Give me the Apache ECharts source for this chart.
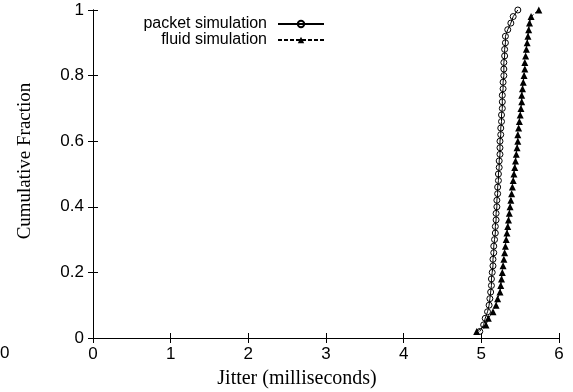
<!DOCTYPE html>
<html>
<head>
<meta charset="utf-8">
<script src="https://cdn.jsdelivr.net/npm/echarts@6/dist/echarts.min.js"></script>
<style>
html,body{margin:0;padding:0;background:#fff;}
#chart{width:573px;height:392px;}
</style>
</head>
<body>
<div id="chart"></div>
<script>
// Cumulative fraction levels (y values)
const fractions = [0.02,0.04,0.06,0.08,0.10,0.12,0.14,0.16,0.18,0.20,
  0.22,0.24,0.26,0.28,0.30,0.32,0.34,0.36,0.38,0.40,
  0.42,0.44,0.46,0.48,0.50,0.52,0.54,0.56,0.58,0.60,
  0.62,0.64,0.66,0.68,0.70,0.72,0.74,0.76,0.78,0.80,
  0.82,0.84,0.86,0.88,0.90,0.92,0.94,0.96,0.98,1.00];
// Jitter (ms) for packet simulation
const packetJitter = [4.98,5.03,5.05,5.08,5.10,5.11,5.12,5.13,5.13,5.14,
  5.15,5.15,5.16,5.16,5.17,5.18,5.18,5.19,5.19,5.20,
  5.20,5.21,5.21,5.22,5.22,5.23,5.23,5.24,5.24,5.24,
  5.25,5.25,5.26,5.26,5.27,5.27,5.27,5.28,5.28,5.29,
  5.29,5.29,5.30,5.30,5.31,5.31,5.34,5.38,5.41,5.47];
// Jitter (ms) for fluid simulation
const fluidJitter = [4.94,5.06,5.09,5.15,5.19,5.21,5.24,5.25,5.26,5.27,
  5.28,5.29,5.30,5.31,5.32,5.33,5.34,5.35,5.36,5.37,
  5.38,5.39,5.40,5.41,5.42,5.43,5.44,5.45,5.46,5.47,
  5.47,5.48,5.49,5.50,5.51,5.52,5.52,5.53,5.54,5.55,
  5.56,5.56,5.57,5.58,5.59,5.60,5.61,5.62,5.64,5.74];
const seriesNames = ['packet simulation','fluid simulation'];
const xTitle = 'Jitter (milliseconds)';
const yTitle = 'Cumulative Fraction';

const packetData = packetJitter.map((x,i)=>[x,fractions[i]]);
const fluidData = fluidJitter.map((x,i)=>[x,fractions[i]]);

const tickFont = {fontFamily:'Liberation Sans, Arial, sans-serif', fontSize:17, color:'#000'};
const chart = echarts.init(document.getElementById('chart'), null, {renderer:'canvas'});
const axisLine = {show:true, lineStyle:{color:'#000', width:1}};
chart.setOption({
  animation:false,
  backgroundColor:'#fff',
  grid:{left:93, right:14, top:10, bottom:54, show:false},
  legend:{
    data:seriesNames, orient:'vertical', right:248, top:16, align:'right', padding:0,
    itemWidth:46, itemHeight:8, itemGap:0,
    textStyle:{fontFamily:'Liberation Sans, Arial, sans-serif', fontSize:16, color:'#000', padding:[0,6,0,0]}
  },
  xAxis:[
    {type:'value', min:0, max:6, interval:1, position:'bottom',
     axisLine:axisLine, axisTick:{show:true, inside:true, length:5, lineStyle:{color:'#000'}},
     axisLabel:Object.assign({margin:8}, tickFont), splitLine:{show:false}},
    {type:'value', min:0, max:6, interval:1, position:'top',
     axisLine:axisLine, axisTick:{show:true, inside:true, length:5, lineStyle:{color:'#000'}},
     axisLabel:{show:false}, splitLine:{show:false}}
  ],
  yAxis:[
    {type:'value', min:0, max:1, interval:0.2, position:'left',
     axisLine:axisLine, axisTick:{show:true, inside:true, length:5, lineStyle:{color:'#000'}},
     axisLabel:Object.assign({margin:9}, tickFont), splitLine:{show:false}},
    {type:'value', min:0, max:1, interval:0.2, position:'right',
     axisLine:axisLine, axisTick:{show:true, inside:true, length:5, lineStyle:{color:'#000'}},
     axisLabel:{show:false}, splitLine:{show:false}}
  ],
  series:[
    {name:seriesNames[0], type:'line', data:packetData, xAxisIndex:0, yAxisIndex:0,
     symbol:'circle', symbolSize:6, showAllSymbol:true,
     lineStyle:{color:'#000', width:1}, itemStyle:{color:'rgba(0,0,0,0)', borderColor:'#000', borderWidth:1}},
    {name:seriesNames[1], type:'line', data:fluidData, xAxisIndex:0, yAxisIndex:0,
     symbol:'triangle', symbolSize:7, showAllSymbol:true,
     lineStyle:{color:'#000', width:1, type:[4,2]}, itemStyle:{color:'#000'}}
  ],
  graphic:[
    {type:'text', left:0, top:345, style:{text:'0', font:'17px Liberation Sans, Arial, sans-serif', fill:'#000'}},
    {type:'text', x:297, y:379, style:{text:xTitle, font:'20px Liberation Serif, Times New Roman, serif', fill:'#000', textAlign:'center', textVerticalAlign:'middle'}},
    {type:'text', x:25, y:161, rotation:Math.PI/2, style:{text:yTitle, font:'19px Liberation Serif, Times New Roman, serif', fill:'#000', textAlign:'center', textVerticalAlign:'middle'}}
  ]
});
</script>
</body>
</html>
